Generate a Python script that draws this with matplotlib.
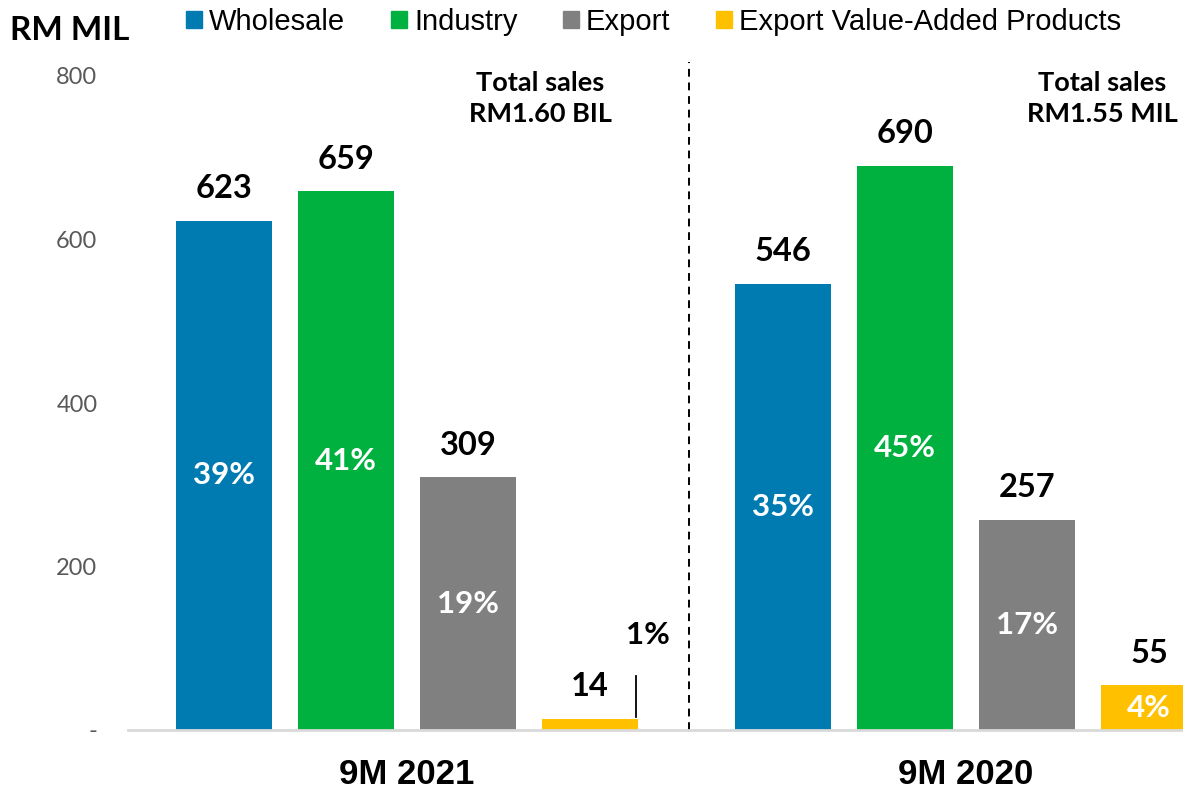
import matplotlib
matplotlib.use("Agg")
import matplotlib.pyplot as plt
from matplotlib import font_manager
from matplotlib.patches import Patch

# ---- data -------------------------------------------------------------
categories = ["Wholesale", "Industry", "Export", "Export Value-Added Products"]
periods = ["9M 2021", "9M 2020"]
sales_2021 = [623, 659, 309, 14]
sales_2020 = [546, 690, 257, 55]
share_2021 = ["39%", "41%", "19%", "1%"]
share_2020 = ["35%", "45%", "17%", "4%"]
totals = ["Total sales\nRM1.60 BIL", "Total sales\nRM1.55 MIL"]
yticks = [0, 200, 400, 600, 800]
ytick_labels = ["-", "200", "400", "600", "800"]

colors = ["#007BB2", "#00B140", "#808080", "#FFC000"]

names = {f.name for f in font_manager.fontManager.ttflist}
narrow = "Liberation Sans Narrow" if "Liberation Sans Narrow" in names else "Liberation Sans"

fig = plt.figure(figsize=(11.83, 7.92), dpi=100)
ax = fig.add_axes([128 / 1183, 62 / 792, 1055 / 1183, 654 / 792])

width = 0.787
group_x = [0.0, 4.582]
values = [sales_2021, sales_2020]
shares = [share_2021, share_2020]

for g in range(2):
    for i, (v, s) in enumerate(zip(values[g], shares[g])):
        x = group_x[g] + i
        ax.bar(x, v, width=width, color=colors[i])
        ax.annotate(str(v), (x, v), xytext=(0, 23), textcoords="offset points",
                    ha="center", va="center", fontsize=23.5, fontweight="bold",
                    family="Lato")
        if g == 0 and i == 3:
            # tiny bar: share shown outside with a leader line
            ax.text(3.475, 116, s, ha="center", va="center", fontsize=22.5,
                    fontweight="bold", family="Lato", color="black")
            ax.plot([3.377, 3.377], [16, 66], color="black", lw=1.3)
        else:
            ax.text(x, v / 2, s, ha="center", va="center", fontsize=22.5,
                    fontweight="bold", family="Lato", color="white")

# group separator
ax.plot([3.81, 3.81], [0, 817], ls=(0, (4, 3)), color="black", lw=1.4,
        clip_on=False)

ax.text(2.59, 773, totals[0], ha="center", va="center", fontsize=19.5,
        fontweight="bold", family="Lato", linespacing=1.35)
ax.text(7.2, 773, totals[1], ha="center", va="center", fontsize=19.5,
        fontweight="bold", family="Lato", linespacing=1.35)

for g, lab in enumerate(periods):
    ax.text(group_x[g] + 1.5, -55, lab, ha="center", va="center", fontsize=25,
            fontweight="bold", family=narrow)

ax.set_xlim(-0.787, 7.861)
ax.set_ylim(0, 800)
ax.set_yticks(yticks)
ax.set_yticklabels(ytick_labels, family="Lato", fontsize=17, color="#595959")
ax.set_xticks([])
ax.tick_params(axis="y", length=0, pad=22)
for sp in ["top", "right", "left"]:
    ax.spines[sp].set_visible(False)
ax.spines["bottom"].set_color("#D9D9D9")
ax.spines["bottom"].set_linewidth(2)

fig.text(10 / 1183, 1 - 30 / 792, "RM MIL", ha="left", va="center",
         fontsize=24, fontweight="bold", family="Lato")

handles = [Patch(color=c) for c in colors]
fig.legend(handles, categories, loc="center left",
           bbox_to_anchor=(186 / 1183, 1 - 22 / 792), ncol=4, frameon=False,
           prop={"family": "Liberation Sans", "size": 21},
           handlelength=0.55, handleheight=0.55, handletextpad=0.25,
           columnspacing=1.55, borderaxespad=0, borderpad=0)

fig.savefig("out.png", dpi=100)
